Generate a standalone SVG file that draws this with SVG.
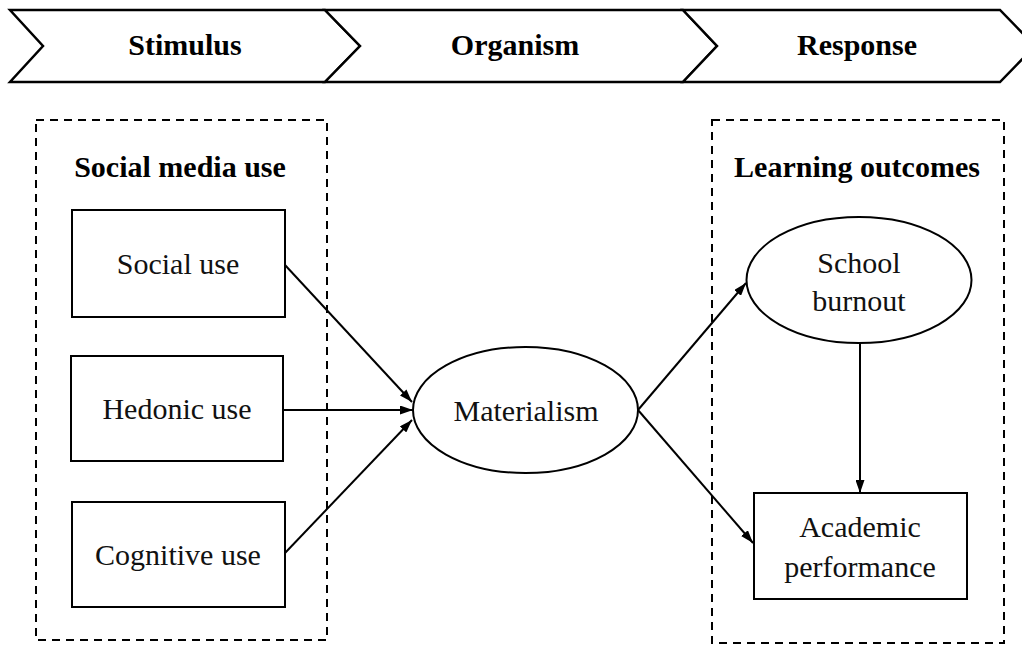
<svg xmlns="http://www.w3.org/2000/svg" width="1022" height="646" viewBox="0 0 1022 646">
<style>
.bg{fill:#fff}
.chev{fill:#fff;stroke:#000;stroke-width:2.5;stroke-linejoin:miter}
.dash{fill:none;stroke:#000;stroke-width:2;stroke-dasharray:8,6}
.node{fill:#fff;stroke:#000;stroke-width:2}
.t{font-size:30px;fill:#111;text-anchor:middle}
.b{font-size:30px;font-weight:bold;fill:#000;text-anchor:middle}
.edge{fill:none;stroke:#000;stroke-width:2;marker-end:url(#ah)}
</style>
<defs>
<marker id="ah" viewBox="0 0 13 9" refX="13" refY="4.5" markerWidth="13" markerHeight="9" markerUnits="userSpaceOnUse" orient="auto">
<path d="M0,0 L13,4.5 L0,9 Z" fill="#000"/>
</marker>
</defs>
<rect class="bg" x="0" y="0" width="1022" height="646"/>
<g font-family="Liberation Serif, Tinos, DejaVu Serif, serif">
<g id="banner">
<polygon class="chev" points="10,10 325,10 360,46 325,82 10,82 43,46"/>
<polygon class="chev" points="325,10 683,10 717,46 683,82 325,82 360,46"/>
<polygon class="chev" points="683,10 1000,10 1035,46 1000,82 683,82 717,46"/>
<text class="b" x="185" y="55">Stimulus</text>
<text class="b" x="515" y="55">Organism</text>
<text class="b" x="857" y="55">Response</text>
</g>
<g id="group-social-media-use">
<rect class="dash" x="36" y="120" width="291" height="520"/>
<text class="b" x="180" y="177">Social media use</text>
</g>
<g id="group-learning-outcomes">
<rect class="dash" x="712" y="120" width="292" height="523"/>
<text class="b" x="857" y="177">Learning outcomes</text>
</g>
<g id="social-use">
<rect class="node" x="72" y="210" width="213" height="107"/>
<text class="t" x="178" y="274">Social use</text>
</g>
<g id="hedonic-use">
<rect class="node" x="71" y="356" width="212" height="105"/>
<text class="t" x="177" y="419">Hedonic use</text>
</g>
<g id="cognitive-use">
<rect class="node" x="72" y="502" width="213" height="105"/>
<text class="t" x="178" y="565">Cognitive use</text>
</g>
<g id="materialism">
<ellipse class="node" cx="525.5" cy="410" rx="112.5" ry="63"/>
<text class="t" x="526" y="421">Materialism</text>
</g>
<g id="school-burnout">
<ellipse class="node" cx="859" cy="280" rx="112.5" ry="63"/>
<text class="t" x="859" y="273">School</text>
<text class="t" x="859" y="311">burnout</text>
</g>
<g id="academic-performance">
<rect class="node" x="754" y="493" width="213" height="106"/>
<text class="t" x="860" y="537">Academic</text>
<text class="t" x="860" y="577">performance</text>
</g>
</g>
<g id="connectors">
<line class="edge" x1="285" y1="265" x2="412" y2="402"/>
<line class="edge" x1="283" y1="410" x2="413" y2="410"/>
<line class="edge" x1="285" y1="553" x2="412" y2="420"/>
<line class="edge" x1="638" y1="410" x2="746" y2="283"/>
<line class="edge" x1="638" y1="410" x2="753" y2="543"/>
<line class="edge" x1="860" y1="343" x2="860" y2="493"/>
</g>
</svg>
